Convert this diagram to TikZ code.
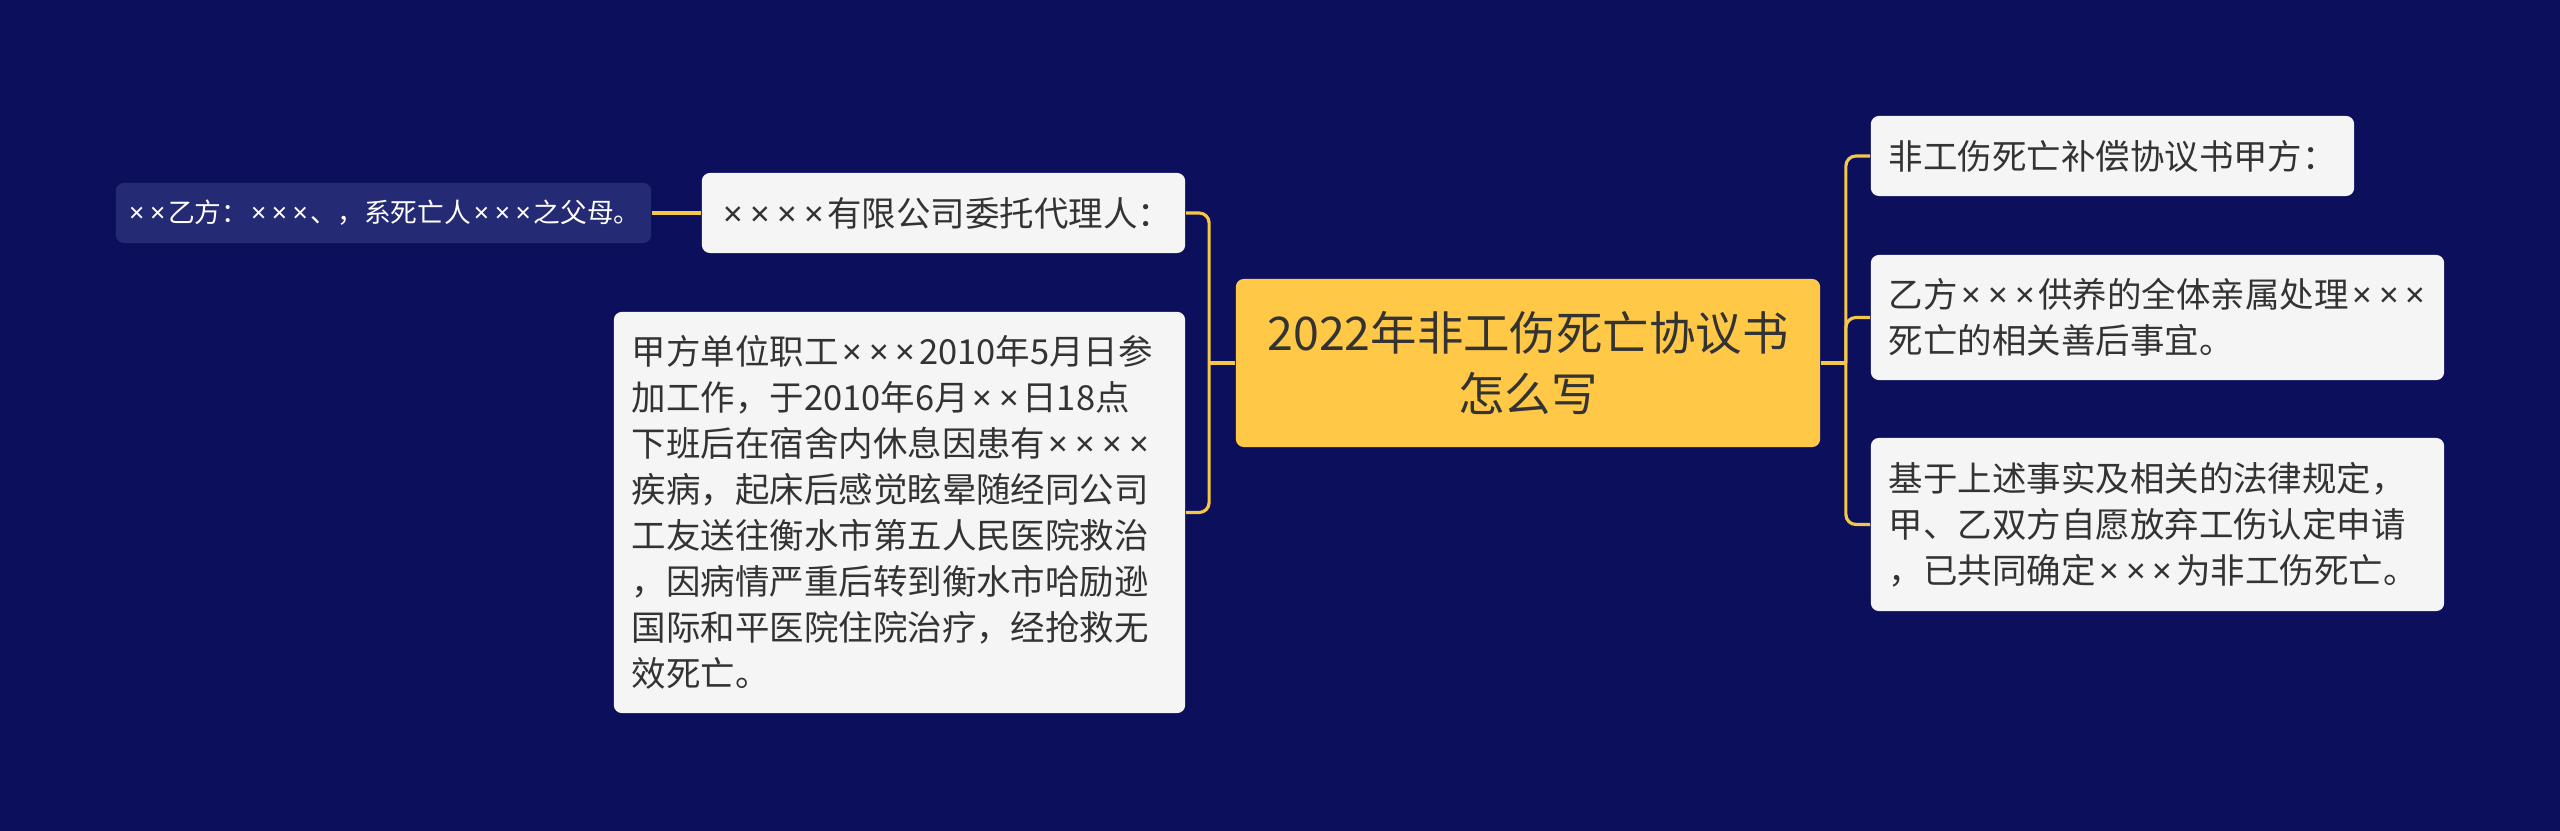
\documentclass[tikz,border=0pt]{standalone}
\usepackage{fontspec}
\setmainfont{Noto Sans CJK SC}
\newfontfamily\latinfont{Noto Sans}
\usepackage{tikz}

\definecolor{bgblue}{HTML}{0B0F5C}
\definecolor{rootyellow}{HTML}{FFC846}
\definecolor{nodegray}{HTML}{F5F5F5}
\definecolor{leafblue}{HTML}{252A75}
\definecolor{linkyellow}{HTML}{F5C748}
\definecolor{textdark}{HTML}{333333}

% multiplication sign, as wide as in the mind map
\newcommand{\xm}{\makebox[0.78em]{\latinfont ×}}

\begin{document}
\begin{tikzpicture}
      [x=0.01cm,y=-0.01cm,
       link/.style={draw=linkyellow,line width=0.9pt,rounded corners=0.1cm},
       main node/.style={fill=nodegray,text=textdark,rounded corners=0.08cm,align=left,inner xsep=0.18cm,inner ysep=0pt,font=\fontsize{9.8}{13.1}\selectfont},
       root node/.style={fill=rootyellow,text=textdark,rounded corners=0.08cm,align=center,inner sep=0pt,minimum width=5.84cm,minimum height=1.68cm,font=\fontsize{13.2}{17.2}\selectfont},
       leaf node/.style={fill=leafblue,text=white,rounded corners=0.08cm,inner sep=0pt,minimum width=5.35cm,minimum height=0.6cm,font=\fontsize{7.6}{9}\selectfont}]
        \useasboundingbox (0,0) rectangle (2560,831);
        \fill[bgblue] (0,0) rectangle (2560,831);

        \node[root node] (root) at (1528,363) {2022年非工伤死亡协议书\\怎么写};
        \node[main node,text width=4.47cm,minimum height=0.8cm] (agent) at (943.5,213) {\xm\xm\xm\xm 有限公司委托代理人：};
        \node[main node,text width=5.35cm,minimum height=4.01cm] (story) at (899.5,512.5)
          {甲方单位职工\xm\xm\xm 2010年5月日参\\加工作，于2010年6月\xm\xm 日18点\\下班后在宿舍内休息因患有\xm\xm\xm\xm\\疾病，起床后感觉眩晕随经同公司\\工友送往衡水市第五人民医院救治\\，因病情严重后转到衡水市哈励逊\\国际和平医院住院治疗，经抢救无\\效死亡。};
        \node[leaf node] (parents) at (383.5,213) {\xm\xm 乙方：\xm\xm\xm 、，系死亡人\xm\xm\xm 之父母。};
        \node[main node,text width=4.47cm,minimum height=0.8cm] (partya) at (2112.5,156) {非工伤死亡补偿协议书甲方：};
        \node[main node,text width=5.37cm,minimum height=1.25cm] (partyb) at (2157.5,317.5)
          {乙方\xm\xm\xm 供养的全体亲属处理\xm\xm\xm\\死亡的相关善后事宜。};
        \node[main node,text width=5.37cm,minimum height=1.73cm] (basis) at (2157.5,524.5)
          {基于上述事实及相关的法律规定，\\甲、乙双方自愿放弃工伤认定申请\\，已共同确定\xm\xm\xm 为非工伤死亡。};

        \draw[link] (root.west) -- ++(-26,0) coordinate (lhub);
        \draw[link] (lhub) |- (agent.east);
        \draw[link] (lhub) |- (story.east);
        \draw[link] (agent.west) -- (parents.east);

        \draw[link] (root.east) -- ++(25,0) coordinate (rhub);
        \draw[link] (rhub) |- (partya.west);
        \draw[link] (rhub) |- (partyb.west);
        \draw[link] (rhub) |- (basis.west);

      \end{tikzpicture}
\end{document}
